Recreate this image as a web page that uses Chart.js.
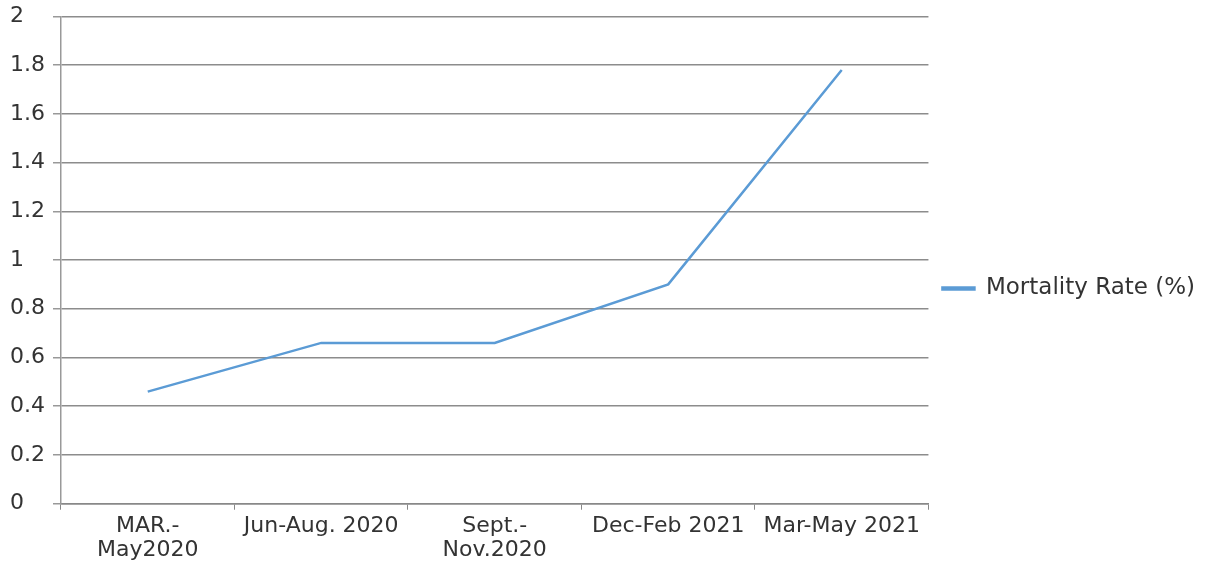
<!DOCTYPE html>
<html><head><meta charset="utf-8">
<script src="https://cdn.jsdelivr.net/npm/chart.js@4"></script>
<style>html,body{margin:0;padding:0;background:#fff}#wrap{width:1209px;height:567px}</style>
</head><body><div id="wrap"><canvas id="c" width="1209" height="567"></canvas></div>
<script>
const categories = [["MAR.-","May2020"], "Jun-Aug. 2020", ["Sept.-","Nov.2020"], "Dec-Feb 2021", "Mar-May 2021"];
const mortalityRate = [0.46, 0.66, 0.66, 0.90, 1.78];
const seriesName = "Mortality Rate (%)";
const yMin = 0, yMax = 2, yStep = 0.2;

const font = {family: "DejaVu Sans", size: 22, lineHeight: 1.12};
new Chart(document.getElementById('c'), {
  type: 'line',
  data: {labels: categories, datasets: [{label: seriesName, data: mortalityRate, borderColor: '#5b9bd5', backgroundColor: '#5b9bd5', borderWidth: 2.5, pointRadius: 0, tension: 0}]},
  options: {
    responsive: false, animation: false,
    layout: {padding: {left: 10, top: 10, right: 4, bottom: 0}},
    plugins: {
      tooltip: {enabled: false},
      legend: {position: 'right', labels: {font: {family: "DejaVu Sans", size: 23}, color: '#333', boxWidth: 32, boxHeight: 2, padding: 14}}
    },
    scales: {
      x: {
        offset: true,
        grid: {offset: true, drawOnChartArea: true, tickLength: 6,
          color: (ctx) => ctx.index === categories.length ? '#cfcfcf' : 'rgba(0,0,0,0)', tickColor: '#888', lineWidth: 1},
        border: {color: '#888', width: 1.5},
        ticks: {font: font, color: '#333', maxRotation: 0, autoSkip: false, padding: 4}
      },
      y: {
        min: yMin, max: yMax,
        grid: {color: '#8c8c8c', lineWidth: 1.5, tickLength: 8, tickColor: '#999'},
        border: {color: '#999', width: 1.5},
        ticks: {font: font, color: '#333', stepSize: yStep, padding: 4, crossAlign: 'far',
          callback: (v) => String(Math.round(v * 10) / 10)}
      }
    }
  }
});
</script></body></html>
